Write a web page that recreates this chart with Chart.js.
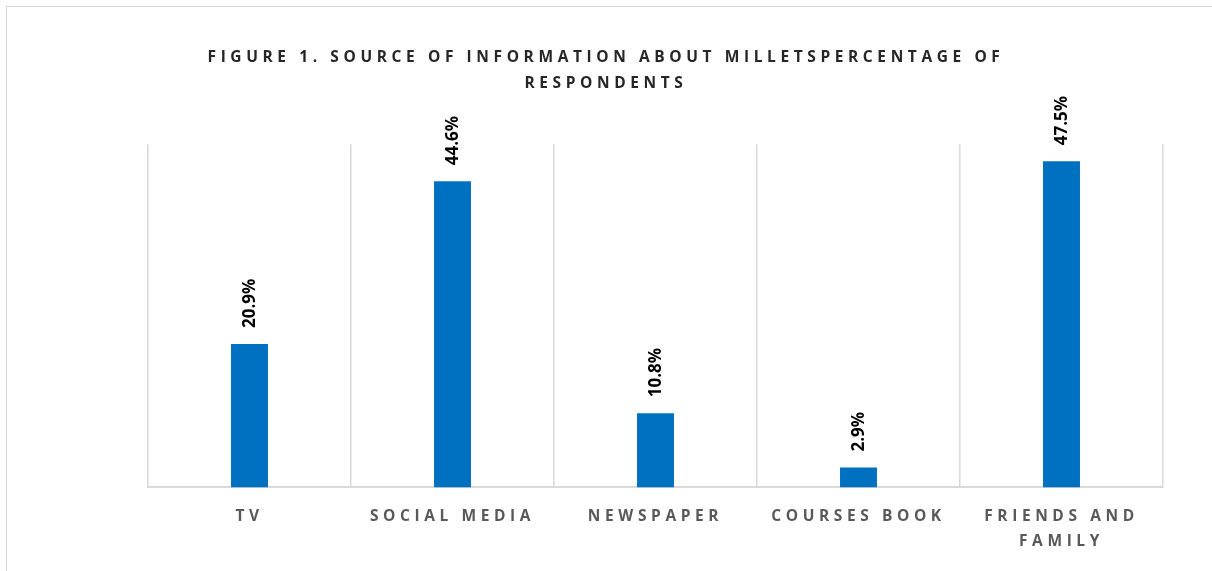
<!DOCTYPE html>
<html>
<head>
<meta charset="utf-8">
<script src="https://cdn.jsdelivr.net/npm/chart.js@4.4.1/dist/chart.umd.min.js"></script>
<style>
    html, body { margin: 0; padding: 0; background: #fff; }
    #wrap { position: relative; width: 1212px; height: 571px; overflow: hidden; }
    #frame { position: absolute; left: 6px; top: 6px; width: 1300px; height: 700px; border: 1px solid #d9d9d9; }
    canvas { position: absolute; left: 0; top: 0; }
</style>
</head>
<body>
<div id="wrap">
    <div id="frame"></div>
    <canvas id="milletChart" width="1212" height="571"></canvas>
</div>
<script>
// Chart data
const categories = ['TV', 'SOCIAL MEDIA', 'NEWSPAPER', 'COURSES BOOK', ['FRIENDS AND', 'FAMILY']];
const percentValues = [20.9, 44.6, 10.8, 2.9, 47.5];
const titleLines = ['FIGURE 1. SOURCE OF INFORMATION ABOUT MILLETSPERCENTAGE OF', 'RESPONDENTS'];
const yMax = 50;

const FONT = '"Open Sans", Lato, sans-serif';

// Chart.js has no letter spacing option, so set it on the context
const spacingPlugin = {
    id: 'spacing',
    beforeLayout(chart) { chart.ctx.letterSpacing = '4.6px'; },
    beforeDraw(chart) { chart.ctx.letterSpacing = '4.6px'; }
};

// Rotated value labels above each bar
const valueLabels = {
    id: 'valueLabels',
    afterDatasetsDraw(chart) {
        const ctx = chart.ctx;
        const meta = chart.getDatasetMeta(0);
        ctx.save();
        ctx.letterSpacing = '0px';
        ctx.font = 'bold 17px ' + FONT;
        ctx.fillStyle = '#000000';
        ctx.textAlign = 'left';
        ctx.textBaseline = 'middle';
        meta.data.forEach((bar, i) => {
            ctx.save();
            ctx.translate(bar.x + 1, bar.y - 16);
            ctx.rotate(-Math.PI / 2);
            ctx.fillText(percentValues[i].toFixed(1) + '%', 0, 0);
            ctx.restore();
        });
        ctx.restore();
    }
};

// hidden axes used as side margins so the title stays centred on the canvas
function sideAxis(pos, width) {
    return {
        position: pos,
        display: true,
        min: 0,
        max: yMax,
        grid: { display: false },
        border: { display: false },
        ticks: { display: false },
        afterFit(scale) { scale.width = width; }
    };
}

function initChart() {
    const ctx = document.getElementById('milletChart').getContext('2d');
    new Chart(ctx, {
        type: 'bar',
        data: {
            labels: categories,
            datasets: [{
                data: percentValues,
                backgroundColor: '#0070c0',
                borderWidth: 0,
                categoryPercentage: 1,
                barPercentage: 0.182
            }]
        },
        options: {
            responsive: false,
            animation: false,
            layout: {
                padding: { left: 0, right: 0, top: 45, bottom: 0 }
            },
            plugins: {
                legend: { display: false },
                tooltip: { enabled: false },
                title: {
                    display: true,
                    text: titleLines,
                    color: '#262626',
                    font: { family: FONT, size: 15.5, weight: 'bold', lineHeight: 1.65 },
                    padding: { top: 0, bottom: 48 }
                }
            },
            scales: {
                x: {
                    grid: {
                        display: true,
                        offset: true,
                        color: '#d9d9d9',
                        lineWidth: 1.5,
                        drawTicks: false
                    },
                    border: { display: true, color: '#d9d9d9', width: 2 },
                    ticks: {
                        color: '#595959',
                        padding: 17,
                        maxRotation: 0,
                        autoSkip: false,
                        font: { family: FONT, size: 15.5, weight: 'bold', lineHeight: 1.6 }
                    }
                },
                y: sideAxis('left', 148),
                y2: sideAxis('right', 49)
            }
        },
        plugins: [spacingPlugin, valueLabels]
    });
}

document.addEventListener('DOMContentLoaded', initChart);
</script>
</body>
</html>
